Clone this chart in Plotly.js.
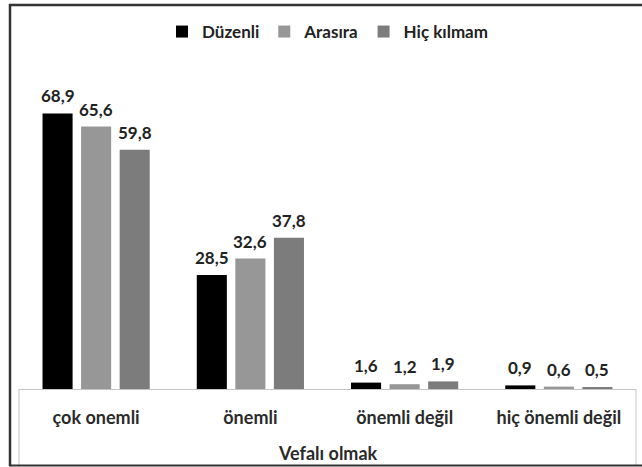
<!DOCTYPE html>
<html>
<head>
<meta charset="utf-8">
<script src="https://cdn.plot.ly/plotly-3.0.1.min.js"></script>
<style>
  html, body { margin: 0; padding: 0; background: #fff; }
  #chart { width: 642px; height: 467px; }
</style>
</head>
<body>
<div id="chart"></div>
<script>
const categories = ["çok onemli", "önemli", "önemli değil", "hiç önemli değil"];
const seriesNames = ["Düzenli", "Arasıra", "Hiç kılmam"];
const duzenli = [68.9, 28.5, 1.6, 0.9];
const arasira = [65.6, 32.6, 1.2, 0.6];
const hicKilmam = [59.8, 37.8, 1.9, 0.5];
const groupTitle = "Vefalı olmak";

const seriesValues = [duzenli, arasira, hicKilmam];
const colors = ["#000000", "#979797", "#7c7c7c"];

const W = 642, H = 467;
const margin = { l: 19, r: 6, t: 69, b: 78 };
const plotW = W - margin.l - margin.r;
const plotH = H - margin.t - margin.b;
const bargap = 0.25, bargroupgap = 0.22;
const slot = plotW / categories.length * (1 - bargap) / seriesValues.length;
const FONT = "Lato, 'Open Sans', sans-serif";

const fmt = v => v.toFixed(1).replace(".", ",");

const traces = seriesValues.map((vals, i) => ({
  type: "bar",
  name: seriesNames[i],
  x: categories,
  y: vals,
  marker: { color: colors[i], line: { width: 0 } },
  hoverinfo: "skip"
}));

const annotations = [];
seriesValues.forEach((vals, i) => {
  vals.forEach((v, j) => {
    annotations.push({
      x: categories[j], y: v, xref: "x", yref: "y",
      text: fmt(v), showarrow: false,
      xanchor: "center", yanchor: "bottom",
      xshift: (i - 1) * slot, yshift: 5,
      font: { family: FONT, size: 17, color: "#222222", weight: "bold" }
    });
  });
});
annotations.push({
  x: 0.5, y: (389 - 453) / plotH, xref: "paper", yref: "paper",
  text: groupTitle, showarrow: false, xanchor: "center", yanchor: "middle",
  font: { family: FONT, size: 18, color: "#2a2a2a", weight: "bold" }
});

const px = x => (x - margin.l) / plotW;
const py = y => (H - margin.b - y) / plotH;
const shapes = [
  { type: "line", xref: "paper", yref: "paper", x0: 0, x1: 0, y0: 0, y1: py(465), line: { color: "#c4c4c4", width: 1 } },
  { type: "line", xref: "paper", yref: "paper", x0: 1, x1: 1, y0: 0, y1: py(465), line: { color: "#c4c4c4", width: 1 } },
  { type: "line", xref: "paper", yref: "paper", x0: px(10), x1: px(10), y0: py(4), y1: py(466), line: { color: "#333", width: 2.5 } },
  { type: "line", xref: "paper", yref: "paper", x0: px(9), x1: px(645), y0: py(5), y1: py(5), line: { color: "#333", width: 2.5 } },
  { type: "line", xref: "paper", yref: "paper", x0: px(9), x1: px(645), y0: py(465.5), y1: py(465.5), line: { color: "#333", width: 2 } }
];

const layout = {
  width: W, height: H,
  margin: margin,
  paper_bgcolor: "#ffffff", plot_bgcolor: "#ffffff",
  barmode: "group", bargap: bargap, bargroupgap: bargroupgap,
  showlegend: true,
  legend: {
    orientation: "h", x: 0.5, xanchor: "center", y: 1 + 37 / plotH, yanchor: "middle",
    font: { family: FONT, size: 17, color: "#222222", weight: "bold" },
    traceorder: "normal", itemclick: false
  },
  xaxis: {
    type: "category",
    showline: true, linecolor: "#c4c4c4", linewidth: 1,
    ticks: "outside", ticklen: 12, tickcolor: "rgba(0,0,0,0)",
    tickfont: { family: FONT, size: 18, color: "#2a2a2a", weight: "bold" },
    showgrid: false, zeroline: false, fixedrange: true
  },
  yaxis: {
    range: [0, 80], visible: false, showgrid: false, zeroline: false, fixedrange: true
  },
  annotations: annotations,
  shapes: shapes
};

Plotly.newPlot("chart", traces, layout, { displayModeBar: false, staticPlot: true });
</script>
</body>
</html>
